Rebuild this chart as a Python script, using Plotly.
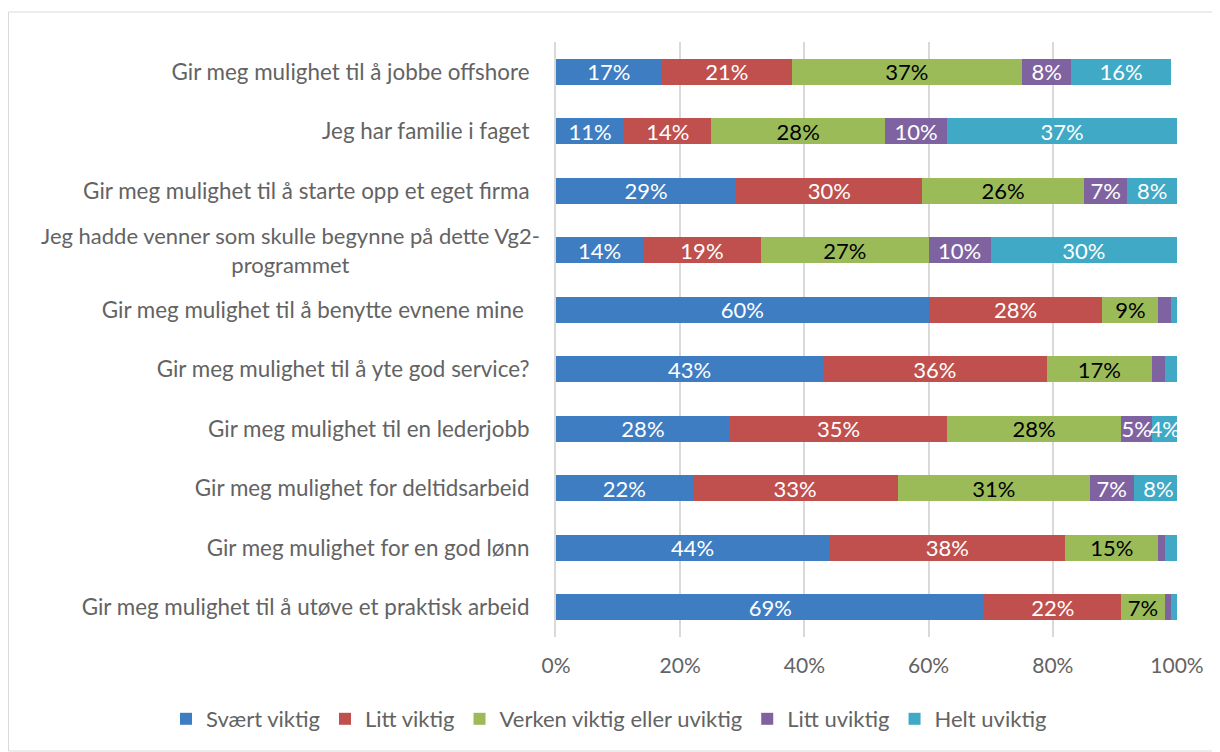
import plotly.graph_objects as go

categories = [
    "Gir meg mulighet til å jobbe offshore",
    "Jeg har familie i faget",
    "Gir meg mulighet til å starte opp et eget firma",
    "Jeg hadde venner som skulle begynne på dette Vg2-<br>programmet",
    "Gir meg mulighet til å benytte evnene mine ",
    "Gir meg mulighet til å yte god service?",
    "Gir meg mulighet til en lederjobb",
    "Gir meg mulighet for deltidsarbeid",
    "Gir meg mulighet for en god lønn",
    "Gir meg mulighet til å utøve et praktisk arbeid",
]

series_names = ["Svært viktig", "Litt viktig", "Verken viktig eller uviktig", "Litt uviktig", "Helt uviktig"]

svaert_viktig = [17, 11, 29, 14, 60, 43, 28, 22, 44, 69]
litt_viktig = [21, 14, 30, 19, 28, 36, 35, 33, 38, 22]
verken = [37, 28, 26, 27, 9, 17, 28, 31, 15, 7]
litt_uviktig = [8, 10, 7, 10, 2, 2, 5, 7, 1, 1]
helt_uviktig = [16, 37, 8, 30, 1, 2, 4, 8, 2, 1]

# which labels are shown (small segments had their labels removed)
shown_litt_uviktig = [True, True, True, True, False, False, True, True, False, False]
shown_helt_uviktig = [True, True, True, True, False, False, True, True, False, False]

tick_labels = ["0%", "20%", "40%", "60%", "80%", "100%"]
tick_values = [0, 20, 40, 60, 80, 100]

colors = ["#3F7DC2", "#C0504D", "#9BBB59", "#7F63A1", "#3FA9C6"]
text_colors = ["white", "white", "black", "white", "white"]

values = [svaert_viktig, litt_viktig, verken, litt_uviktig, helt_uviktig]
shown = [[True] * 10, [True] * 10, [True] * 10, shown_litt_uviktig, shown_helt_uviktig]

FONT = "Lato"
FS = 22
OFF = 8  # page body margin
W, H = 1220 - OFF, 752 - OFF
L, R, T, B = 556 - OFF, 1177 - OFF, 42 - OFF, 637 - OFF
PW, PH = R - L, B - T
LABEL_GRAY = "#636363"

fig = go.Figure()
for name, vals, col, tcol, sh in zip(series_names, values, colors, text_colors, shown):
    fig.add_trace(go.Bar(
        y=categories, x=vals, name=name, orientation="h",
        marker=dict(color=col, line=dict(width=0)),
        text=[f"{v}%" if s else "" for v, s in zip(vals, sh)],
        textposition="inside", insidetextanchor="middle", textangle=0,
        textfont=dict(color=tcol, size=FS, family=FONT),
        constraintext="none",
        hoverinfo="x+y+name",
    ))

ticktext = [c if "<br>" not in c else "" for c in categories]

fig.update_layout(
    barmode="stack",
    bargap=0.56,
    width=W, height=H,
    margin=dict(l=L, r=W - R, t=T, b=H - B, autoexpand=False),
    paper_bgcolor="white", plot_bgcolor="white",
    uniformtext=dict(minsize=8, mode="show"),
    font=dict(family=FONT, color=LABEL_GRAY),
    xaxis=dict(
        range=[0, 100], tickvals=tick_values, ticktext=tick_labels,
        showgrid=True, gridcolor="#D9D9D9", gridwidth=2,
        zeroline=False, showline=False,
        tickfont=dict(size=FS - 1, color=LABEL_GRAY, family=FONT),
        ticks="", ticklabelstandoff=14,
    ),
    yaxis=dict(
        autorange="reversed", tickmode="array", tickvals=categories, ticktext=ticktext,
        showline=True, linecolor="#D9D9D9", linewidth=2,
        tickfont=dict(size=FS + 0.4, color=LABEL_GRAY, family=FONT),
        ticks="", ticklabelstandoff=20,
    ),
    legend=dict(
        orientation="h",
        x=(166 - OFF - L) / PW, xanchor="left",
        y=-(719 - OFF - B) / PH, yanchor="middle",
        font=dict(size=FS, color=LABEL_GRAY, family=FONT),
        itemwidth=30, traceorder="normal", bgcolor="rgba(0,0,0,0)",
    ),
    showlegend=True,
)

# two-line centred category label as annotation
for c in categories:
    if "<br>" in c:
        fig.add_annotation(
            x=(290 - OFF - L) / PW, xref="paper", y=c, yref="y",
            text=c, showarrow=False, align="center", xanchor="center",
            font=dict(size=FS, color=LABEL_GRAY, family=FONT),
        )

# chart border
fig.add_shape(
    type="rect", xref="paper", yref="paper",
    x0=(8 - OFF - L) / PW + 0.5 / PW, x1=(1219 - OFF - L) / PW,
    y0=(B - (751 - OFF)) / PH, y1=(B - (12 - OFF)) / PH,
    line=dict(color="#D9D9D9", width=1), fillcolor="rgba(0,0,0,0)", layer="below",
)

fig.write_html("out.html")
